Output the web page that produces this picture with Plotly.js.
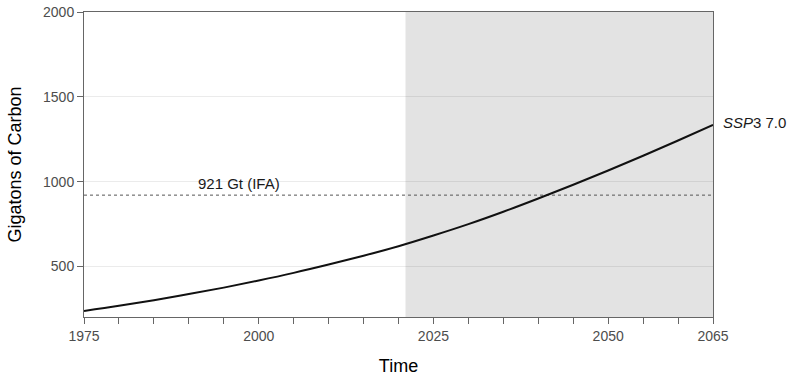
<!DOCTYPE html>
<html>
<head>
<meta charset="utf-8">
<script src="https://cdn.plot.ly/plotly-3.0.1.min.js"></script>
<style>html,body{margin:0;padding:0;background:#fff;}#chart{width:789px;height:376px;}</style>
</head>
<body>
<div id="chart"></div>
<script>
// Data
const years = [1975,1980,1985,1990,1995,2000,2005,2010,2015,2020,2025,2030,2035,2040,2045,2050,2055,2060,2065];
const carbonGt = [239,269,302,338,376,418,463,512,564,620,683,750,823,901,982,1066,1153,1243,1335];
const ifaLevel = 921;
const ifaLabel = "921 Gt (IFA)";
const seriesLabel = "<i>SSP</i>3 7.0";
const projectionStart = 2021;
const xTickVals = [1975,1980,1985,1990,1995,2000,2005,2010,2015,2020,2025,2030,2035,2040,2045,2050,2055,2060,2065];
const xTickText = ["1975","","","","","2000","","","","","2025","","","","","2050","","","2065"];
const yTickVals = [500,1000,1500,2000];

const font = "Liberation Sans, Arial, sans-serif";

const traces = [
  {
    x: [years[0], years[years.length-1]],
    y: [ifaLevel, ifaLevel],
    mode: "lines",
    line: {color: "#555555", width: 1, dash: "3px,3px"},
    hoverinfo: "skip",
    showlegend: false
  },
  {
    x: years,
    y: carbonGt,
    mode: "lines",
    line: {color: "#111111", width: 2, shape: "spline"},
    showlegend: false
  }
];

const layout = {
  width: 789, height: 376,
  margin: {l: 83.5, r: 75.5, t: 12, b: 59, pad: 0},
  paper_bgcolor: "#ffffff",
  plot_bgcolor: "#ffffff",
  font: {family: font, color: "#4d4d4d"},
  xaxis: {
    range: [1975, 2065],
    tickvals: xTickVals,
    ticktext: xTickText,
    ticks: "outside", ticklen: 6, tickwidth: 1, tickcolor: "#666666",
    showline: true, linecolor: "#666666", linewidth: 1, mirror: true,
    showgrid: false, zeroline: false,
    tickfont: {family: font, size: 14, color: "#4d4d4d"},
    title: {text: "Time", font: {family: font, size: 18, color: "#000000"}, standoff: 31}
  },
  yaxis: {
    range: [203, 2000],
    tickvals: yTickVals,
    ticks: "outside", ticklen: 6, tickwidth: 1, tickcolor: "#666666",
    showline: true, linecolor: "#666666", linewidth: 1, mirror: true,
    showgrid: true, gridcolor: "rgba(0,0,0,0.08)", gridwidth: 1,
    zeroline: false,
    tickfont: {family: font, size: 14, color: "#4d4d4d"},
    title: {text: "Gigatons of Carbon", font: {family: font, size: 18, color: "#000000"}, standoff: 16}
  },
  shapes: [
    {type: "rect", xref: "x", yref: "paper", x0: projectionStart, x1: 2065, y0: 0, y1: 1,
     fillcolor: "#e3e3e3", line: {width: 0}, layer: "below"}
  ],
  annotations: [
    {x: 1991, y: ifaLevel, xref: "x", yref: "y", text: ifaLabel, showarrow: false,
     xanchor: "left", yanchor: "bottom", yshift: 1,
     font: {family: font, size: 15, color: "#1a1a1a"}},
    {x: 2065, y: carbonGt[carbonGt.length-1], xref: "x", yref: "y", text: seriesLabel, showarrow: false,
     xanchor: "left", yanchor: "middle", xshift: 8, yshift: 2,
     font: {family: font, size: 15, color: "#1a1a1a"}}
  ]
};

Plotly.newPlot("chart", traces, layout, {displayModeBar: false, staticPlot: true});
</script>
</body>
</html>
